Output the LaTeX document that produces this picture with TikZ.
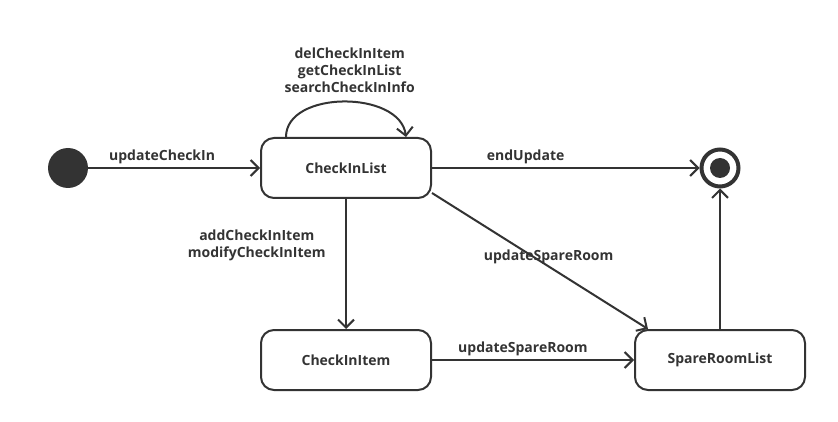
\documentclass[tikz,border=0pt]{standalone}
\usepackage{fontspec}
\setmainfont{Open Sans}
\usetikzlibrary{arrows.meta}
\definecolor{ink}{HTML}{333333}

\begin{document}
\begin{tikzpicture}[x=1pt, y=-1pt, >={Straight Barb[length=8pt, width=16pt, line width=2pt]},
  every node/.style={font=\fontsize{14}{17}\selectfont\bfseries, text=ink},
  state/.style={draw=ink, line width=2pt, rounded corners=13pt,
    minimum width=170pt, minimum height=60pt, inner sep=0pt},
  trans/.style={draw=ink, line width=2pt, ->}]
  \useasboundingbox (0,0) rectangle (838,422);
  % states
  \node[circle, fill=ink, minimum size=40pt, inner sep=0pt] (init) at (68,168) {};
  \node[state] (checkInList) at (346,168) {CheckInList};
  \node[state] (checkInItem) at (346,360) {CheckInItem};
  \node[state] (spareRoomList) at (720,360) {SpareRoomList};
  \node[circle, draw=ink, line width=4pt, minimum size=37pt, inner sep=0pt] (final) at (720,168) {};
  \node[circle, fill=ink, minimum size=20pt, inner sep=0pt] at (final) {};
  % transitions
  \draw[trans] (init) -- node[pos=0.43, above=0pt] {updateCheckIn} (checkInList);
  \draw[trans] ([xshift=26pt]checkInList.north west)
    .. controls +(0,-47) and +(-6,-47) .. ([xshift=-26pt]checkInList.north east)
    node[pos=0.5, above=5pt, xshift=6pt, align=center] {delCheckInItem\\getCheckInList\\searchCheckInInfo};
  \draw[trans] (checkInList) -- node[pos=0.35, above=0pt] {endUpdate} (final);
  \draw[trans] (checkInList.south) -- node[pos=0.36, left=16pt, align=center]
    {addCheckInItem\\modifyCheckInItem} (checkInItem.north);
  \draw[trans] ([yshift=6pt]checkInList.south east) -- node[pos=0.54, yshift=10pt]
    {updateSpareRoom} ([xshift=-72pt]spareRoomList.north);
  \draw[trans] (checkInItem) -- node[pos=0.45, above=0pt] {updateSpareRoom} (spareRoomList);
  \draw[trans] (spareRoomList) -- (final);
\end{tikzpicture}
\end{document}
